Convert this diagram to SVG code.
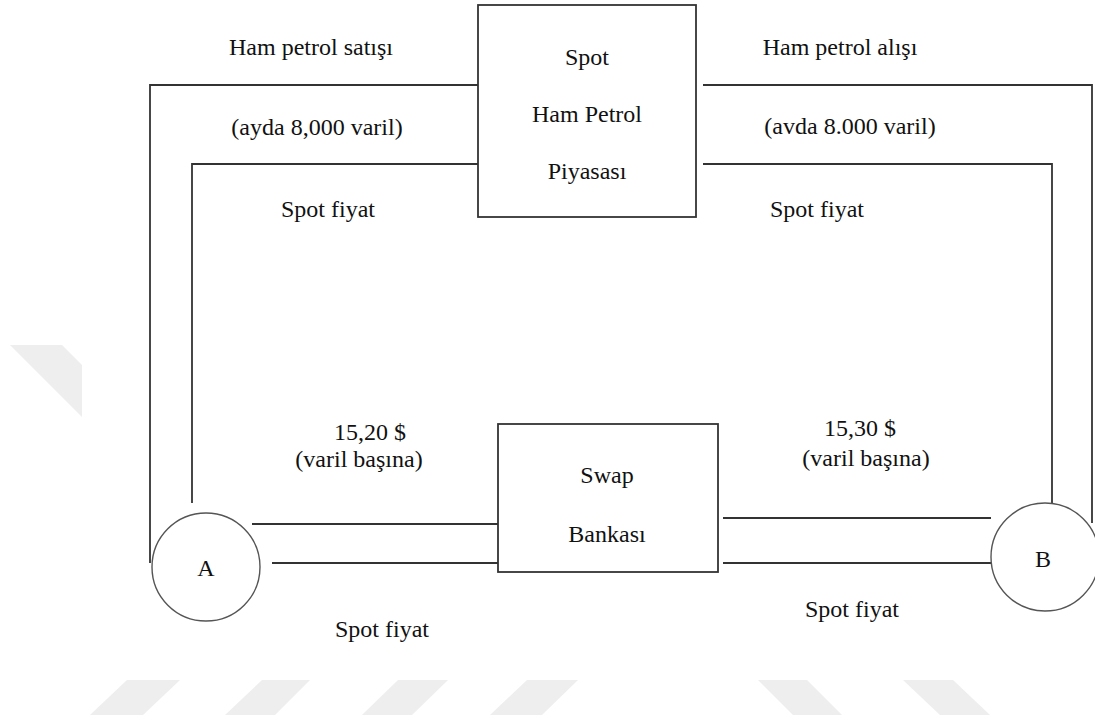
<svg xmlns="http://www.w3.org/2000/svg" width="1095" height="720" viewBox="0 0 1095 720">
<style>
.bg{fill:#ffffff}
.wm{fill:#eeeeee}
.box{fill:#ffffff;stroke:#333333;stroke-width:1.8}
.circ{fill:#ffffff;stroke:#555555;stroke-width:1.4}
.ln{fill:none;stroke:#333333;stroke-width:1.8}
text{font-family:"Liberation Serif","Times New Roman",serif;font-size:24px;fill:#111111;text-anchor:middle}
</style>
<rect class="bg" x="0" y="0" width="1095" height="720"/>
<g id="watermark">
<polygon class="wm" points="10,345 62,345 82,365 82,417"/>
<polygon class="wm" points="127,680 180,680 143,715 90,715"/>
<polygon class="wm" points="262,680 310,680 275,715 225,715"/>
<polygon class="wm" points="398,680 448,680 412,715 362,715"/>
<polygon class="wm" points="527,680 578,680 542,715 490,715"/>
<polygon class="wm" points="758,680 807,680 842,715 793,715"/>
<polygon class="wm" points="903,680 953,680 990,715 940,715"/>
</g>
<g id="connectors">
<polyline class="ln" points="478,85 150,85 150,563"/>
<polyline class="ln" points="478,164 192,164 192,503"/>
<polyline class="ln" points="703,85 1092,85 1092,523"/>
<polyline class="ln" points="703,164 1052,164 1052,503"/>
<line class="ln" x1="252" y1="524" x2="498" y2="524"/>
<line class="ln" x1="272" y1="563" x2="498" y2="563"/>
<line class="ln" x1="723" y1="518" x2="991" y2="518"/>
<line class="ln" x1="723" y1="563" x2="991" y2="563"/>
</g>
<g id="labels">
<text x="311" y="55">Ham petrol satışı</text>
<text x="317" y="135">(ayda 8,000 varil)</text>
<text x="328" y="217">Spot fiyat</text>
<text x="840" y="55">Ham petrol alışı</text>
<text x="850" y="134">(avda 8.000 varil)</text>
<text x="817" y="217">Spot fiyat</text>
<text x="370" y="440">15,20 $</text>
<text x="359" y="467">(varil başına)</text>
<text x="860" y="436">15,30 $</text>
<text x="866" y="466">(varil başına)</text>
<text x="382" y="637">Spot fiyat</text>
<text x="852" y="617">Spot fiyat</text>
</g>
<g id="spot-market">
<rect class="box" x="478" y="5" width="218" height="212"/>
<text x="587" y="65">Spot</text>
<text x="587" y="122">Ham Petrol</text>
<text x="587" y="179">Piyasası</text>
</g>
<g id="swap-bank">
<rect class="box" x="498" y="424" width="220" height="148"/>
<text x="607" y="483">Swap</text>
<text x="607" y="542">Bankası</text>
</g>
<g id="node-a">
<circle class="circ" cx="206" cy="567" r="54"/>
<text x="206" y="576">A</text>
</g>
<g id="node-b">
<circle class="circ" cx="1045" cy="557" r="54"/>
<text x="1043" y="567">B</text>
</g>
</svg>
